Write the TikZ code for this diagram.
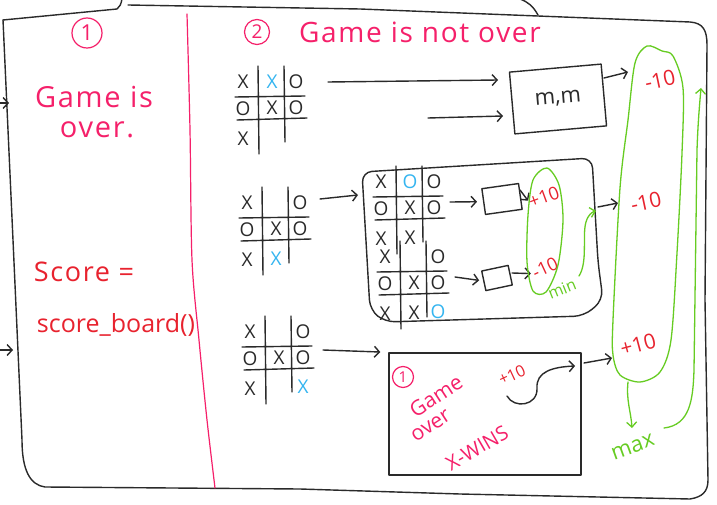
\documentclass[tikz,border=0pt]{standalone}
\usepackage{fontspec}
\setmainfont{Open Sans}
\newfontfamily\hand{Open Sans}[LetterSpace=6]
\usetikzlibrary{arrows.meta,calc}
\definecolor{ink}{HTML}{2A2A2A}
\definecolor{pinkc}{HTML}{F5206A}
\definecolor{redc}{HTML}{E8222E}
\definecolor{bluec}{HTML}{35B5F0}
\definecolor{greenc}{HTML}{66CC22}
\newcommand{\bX}{\textcolor{bluec}{X}}
\newcommand{\bO}{\textcolor{bluec}{O}}
\newcommand{\fs}[1]{\fontsize{#1}{#1}\selectfont}
\newcommand{\tttboard}[9]{%
  \draw[inkline] (15,-16) -- (16,72) (41,-16) -- (42,60) (-8,15) -- (62,14) (-6,38) -- (64,36);
  \node[cell] at (0,0) {#1}; \node[cell] at (29,0) {#2}; \node[cell] at (53,0) {#3};
  \node[cell] at (0,27) {#4}; \node[cell] at (29,26) {#5}; \node[cell] at (53,26) {#6};
  \node[cell] at (0,57) {#7}; \node[cell] at (29,56) {#8}; \node[cell] at (53,55) {#9};
}
\begin{document}
\begin{tikzpicture}[x=1pt,y=-1pt,line cap=round,line join=round,
  inkline/.style={draw=ink,line width=1.4pt},
  harr/.style={draw=ink,line width=1.4pt,-{Straight Barb[length=5pt,width=11pt]}},
  gline/.style={draw=greenc,line width=1.3pt},
  garr/.style={draw=greenc,line width=1.3pt,-{Straight Barb[length=5pt,width=10pt]}},
  cell/.style={text=ink,font=\fs{19},inner sep=0pt},
  pinktext/.style={text=pinkc,inner sep=0pt},
  redtext/.style={text=redc,inner sep=1pt},
  numlabel/.style={text=redc,font=\fs{21},inner sep=0pt},
  circnum/.style={circle,draw=pinkc,line width=1.2pt,text=pinkc,inner sep=0pt},
  boxnode/.style={draw=ink,line width=1.4pt,inner sep=0pt},
]
\fill[white] (0,0) rectangle (717,505);
\useasboundingbox (0,0) rectangle (717,505);

% outer frame
\draw[inkline] (3,20) -- (117,9) .. controls (120,7) and (121,4) .. (122,-1);
\draw[inkline] (128,5) -- (360,9) -- (690,22) .. controls (703,23) and (707,30) .. (707,45)
  -- (705,300) -- (708,480) .. controls (708,492) and (702,497) .. (690,499)
  -- (460,494) -- (300,489) -- (45,487) .. controls (30,485) and (22,470) .. (22,440)
  -- (13,240) -- (3,20);
\draw[inkline] (538,15) .. controls (533,6) and (528,2) .. (520,-1);

% arrows entering from the left
\coordinate (inA) at (-25,103); \coordinate (inAend) at (9,103);
\coordinate (inB) at (-25,350); \coordinate (inBend) at (13,350);
\draw[harr] (inA) -- (inAend);
\draw[harr] (inB) -- (inBend);

% divider
\draw[draw=pinkc,line width=1.2pt] plot[smooth] coordinates {(187,14) (190,130) (192,260) (199,340) (207,420) (215,488)};

% section 1
\node[circnum,minimum size=30pt,font=\fs{22}] (c1) at (87,33) {1};
\node[pinktext,font=\hand\fs{29}] (gameis) at (94,97) {Game is};
\node[pinktext,font=\hand\fs{29}] (over) at (97,130) {over.};
\node[redtext,font=\hand\fs{27}] (score) at (84,272) {Score =};
\node[redtext,font=\fs{25}] (sboard) at (116,325) {score\_board()};

% section 2 title
\node[circnum,minimum size=25pt,font=\fs{19}] (c2) at (257,32) {2};
\node[pinktext,font=\hand\fs{28}] (notover) at (420,32) {Game is not over};

% boards
\begin{scope}[shift={(243,82)}] \tttboard{X}{\bX}{O}{O}{X}{O}{X}{}{} \end{scope}
\begin{scope}[shift={(247,203)}] \tttboard{X}{}{O}{O}{X}{O}{X}{\bX}{} \end{scope}
\begin{scope}[shift={(250,332)}] \tttboard{X}{}{O}{O}{X}{O}{X}{}{\bX} \end{scope}
\begin{scope}[shift={(381,182)}] \tttboard{X}{\bO}{O}{O}{X}{O}{X}{X}{} \end{scope}
\begin{scope}[shift={(385,257)}] \tttboard{X}{}{O}{O}{X}{O}{X}{X}{\bO} \end{scope}

% m,m box
\node[boxnode,minimum width=92pt,minimum height=62pt,rotate=5,font=\fs{22},text=ink] (mm) at (558,99) {m,m};
\coordinate (b1o1) at (328,82); \coordinate (mmin1) at (498,80);
\coordinate (b1o2) at (428,118); \coordinate (mmin2) at (503,116);
\draw[harr] (b1o1) -- (mmin1);
\draw[harr] (b1o2) -- (mmin2);

% min box
\draw[inkline,rounded corners=10pt] (362,172) -- (592,158) -- (598,262) -- (603,300) -- (584,316) -- (385,322) -- (370,310) -- cycle;
\coordinate (b2o) at (320,199); \coordinate (minboxin) at (358,195);
\draw[harr] (b2o) -- (minboxin);

\node[boxnode,minimum width=37pt,minimum height=26pt,rotate=8] (sb1) at (502,199) {};
\node[boxnode,minimum width=27pt,minimum height=20pt,rotate=12] (sb2) at (497,278) {};
\coordinate (bAo) at (450,202); \coordinate (bBo) at (455,277);
\draw[harr,shorten >=6pt] (bAo) -- (sb1.west);
\draw[harr,shorten >=4pt] (bBo) -- (sb2.west);

\node[numlabel,font=\fs{18},rotate=20] (p10a) at (544,197) {+10};
\node[numlabel,font=\fs{18},rotate=25] (m10a) at (545,268) {-10};
\coordinate (sb1o) at (520,190); \coordinate (sb2o) at (512,273);
\draw[harr,shorten >=2pt] (sb1o) -- (p10a.west);
\draw[harr,shorten >=2pt] (sb2o) -- (m10a.west);

\draw[gline] plot[smooth cycle] coordinates {(547,168) (559,185) (563,220) (558,265) (546,292) (533,291) (527,262) (528,215) (533,180)};
\node[text=greenc,font=\fs{16},rotate=22,inner sep=0pt] (minlbl) at (562,289) {min};
\coordinate (minarrs) at (579,276); \coordinate (minarre) at (596,211);
\draw[garr] (minarrs) .. controls (588,262) and (582,235) .. (586,222) .. controls (588,215) and (592,212) .. (minarre);

% game over box
\node[boxnode,minimum width=192pt,minimum height=122pt] (gobox) at (485,414) {};
\node[circnum,minimum size=21pt,font=\fs{15}] (c3) at (403,377) {1};
\node[pinktext,font=\fs{21},rotate=33] (gogame) at (436,396) {Game};
\node[pinktext,font=\fs{21},rotate=33] (goover) at (431,426) {over};
\node[pinktext,font=\fs{20},rotate=30] (gowins) at (477,448) {X-WINS};
\node[numlabel,font=\fs{16},rotate=25] (p10b) at (512,375) {+10};
\coordinate (curvs) at (507,396); \coordinate (curve) at (575,366);
\draw[harr] (curvs) .. controls (514,409) and (538,406) .. (537,388) .. controls (536,372) and (552,367) .. (curve);
\coordinate (b3o) at (323,350);
\draw[harr,shorten >=8pt] (b3o) -- (gobox.north west);

% big max oval
\draw[gline] plot[smooth cycle] coordinates {(647,46) (662,51) (673,56) (683,88) (682,153) (677,253) (671,340) (660,372) (640,382) (620,375) (613,355) (613,320) (620,188) (628,120) (635,63)};
\node[numlabel,rotate=12] (m10top) at (660,80) {-10};
\node[numlabel,rotate=12] (m10mid) at (646,202) {-10};
\node[numlabel,rotate=15] (p10bot) at (638,345) {+10};

\coordinate (mmo) at (604,78); \coordinate (ovin1) at (628,72);
\draw[harr] (mmo) -- (ovin1);
\coordinate (minboxo) at (598,207); \coordinate (ovin2) at (618,203);
\draw[harr] (minboxo) -- (ovin2);
\coordinate (goboxo) at (584,363); \coordinate (ovin3) at (612,358);
\draw[harr] (goboxo) -- (ovin3);

\node[text=greenc,font=\fs{22},rotate=20,inner sep=0pt] (maxlbl) at (633,447) {max};
\coordinate (ovout) at (628,382); \coordinate (maxin) at (632,428);
\draw[garr] (ovout) .. controls (626,400) and (631,412) .. (maxin);
\coordinate (maxout) at (664,428); \coordinate (upend) at (701,88);
\draw[garr] (maxout) .. controls (690,425) and (693,400) .. (694,370) -- (697,150) .. controls (698,120) and (700,100) .. (upend);
\end{tikzpicture}
\end{document}
